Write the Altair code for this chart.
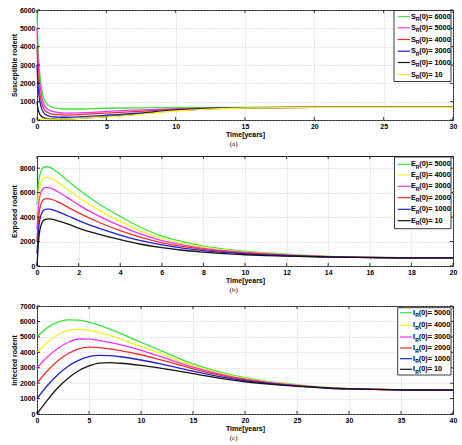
import altair as alt
import pandas as pd

FONT = "Liberation Sans"
SERIF = "Liberation Serif"

# MATLAB-style line colours
GREEN = "#3be63b"
MAGENTA = "#ee33ee"
RED = "#ee2e2e"
BLUE = "#2020d0"
BLACK = "#141414"
YELLOW = "#f2f222"

# ---------------- (a) susceptible rodents ----------------
t_a = [0, 0.05, 0.15, 0.3, 0.5, 0.75, 1, 1.5, 2, 3, 4, 5, 7, 10, 12, 15, 20, 25, 30]
s_6000 = [6000, 4500, 3000, 1900, 1150, 850, 730, 630, 600, 600, 620, 640, 660, 680, 685, 690, 690, 690, 690]
s_5000 = [5000, 3700, 2400, 1450, 850, 600, 500, 410, 380, 390, 420, 470, 540, 610, 650, 680, 690, 690, 690]
s_4000 = [4000, 2900, 1800, 1050, 600, 420, 340, 290, 270, 290, 330, 380, 460, 580, 635, 675, 690, 690, 690]
s_3000 = [3000, 2100, 1300, 700, 380, 250, 190, 160, 150, 170, 210, 260, 360, 550, 620, 670, 690, 690, 690]
s_1000 = [1000, 700, 400, 220, 120, 80, 65, 60, 60, 90, 130, 180, 300, 520, 600, 665, 690, 690, 690]
s_10 = [10, 20, 30, 40, 45, 50, 50, 55, 60, 90, 130, 170, 280, 490, 580, 655, 688, 690, 690]
init_a = ["6000", "5000", "4000", "3000", "1000", "10"]
colors_a = [GREEN, MAGENTA, RED, BLUE, BLACK, YELLOW]

# ---------------- (b) exposed rodents ----------------
t_b = [0, 0.05, 0.1, 0.2, 0.3, 0.45, 0.6, 0.8, 1, 1.5, 2, 3, 4, 5, 6, 7, 8, 9, 10, 11, 12, 14, 16, 18, 20]
e_5000 = [5000, 6300, 7100, 7800, 8050, 8120, 8080, 7900, 7650, 6950, 6250, 5050, 4050, 3150, 2450, 2000, 1620, 1380, 1210, 1070, 960, 790, 710, 675, 665]
e_4000 = [4000, 5400, 6200, 6900, 7180, 7270, 7230, 7080, 6860, 6250, 5620, 4550, 3650, 2850, 2250, 1850, 1540, 1320, 1160, 1040, 930, 775, 705, 672, 665]
e_3000 = [3000, 4400, 5300, 6050, 6330, 6430, 6400, 6270, 6080, 5550, 5000, 4060, 3280, 2600, 2080, 1730, 1450, 1250, 1110, 1000, 900, 765, 700, 670, 665]
e_2000 = [2000, 3400, 4300, 5100, 5420, 5520, 5500, 5400, 5240, 4800, 4350, 3560, 2900, 2340, 1900, 1600, 1360, 1180, 1060, 960, 870, 755, 698, 669, 665]
e_1000 = [1000, 2400, 3400, 4200, 4550, 4660, 4660, 4580, 4450, 4090, 3720, 3070, 2530, 2070, 1720, 1460, 1260, 1110, 1000, 910, 840, 745, 694, 668, 665]
e_10 = [10, 1400, 2500, 3350, 3700, 3830, 3850, 3800, 3700, 3420, 3100, 2580, 2150, 1780, 1500, 1290, 1140, 1010, 920, 850, 800, 730, 690, 668, 665]
init_b = ["5000", "4000", "3000", "2000", "1000", "10"]
colors_b = [GREEN, YELLOW, MAGENTA, RED, BLUE, BLACK]

# ---------------- (c) infected rodents ----------------
t_c = [0, 1, 2, 3, 4, 5, 6, 7, 8, 10, 12, 15, 18, 20, 22, 25, 28, 30, 35, 40]
i_5000 = [5000, 5600, 5950, 6100, 6080, 5950, 5750, 5500, 5230, 4650, 4080, 3250, 2650, 2350, 2130, 1900, 1720, 1650, 1570, 1550]
i_4000 = [4000, 4650, 5150, 5420, 5480, 5420, 5280, 5090, 4870, 4380, 3880, 3130, 2580, 2300, 2100, 1880, 1710, 1650, 1570, 1550]
i_3000 = [3000, 3700, 4250, 4650, 4860, 4850, 4760, 4640, 4500, 4130, 3700, 3040, 2520, 2260, 2070, 1860, 1700, 1640, 1570, 1550]
i_2000 = [2000, 2800, 3450, 3920, 4220, 4330, 4300, 4220, 4110, 3840, 3490, 2930, 2460, 2220, 2040, 1840, 1690, 1635, 1568, 1550]
i_1000 = [1000, 1850, 2550, 3100, 3480, 3720, 3800, 3780, 3710, 3500, 3230, 2780, 2370, 2160, 2000, 1820, 1680, 1630, 1565, 1550]
i_10 = [10, 900, 1700, 2320, 2800, 3120, 3300, 3330, 3290, 3150, 2960, 2620, 2270, 2090, 1950, 1790, 1670, 1625, 1563, 1550]
init_c = ["5000", "4000", "3000", "2000", "1000", "10"]
colors_c = [GREEN, YELLOW, MAGENTA, RED, BLUE, BLACK]

W = 416
ONE = pd.DataFrame({"k": [0]})


def panel(t, series, inits, colors, var, ytitle, caption,
          xmax, xstep, ymax, yticks, height, leg):
    xticks = list(range(0, xmax + 1, xstep))
    xs = alt.Scale(domain=[0, xmax], nice=False, zero=False)
    ys = alt.Scale(domain=[0, ymax], nice=False, zero=False)
    xa = alt.Axis(values=xticks, title="Time[years]", format="d")
    ya = alt.Axis(values=yticks, title=ytitle, format="d")
    x_enc = alt.X("t:Q", scale=xs, axis=xa)
    y_enc = alt.Y("v:Q", scale=ys, axis=ya)

    layers = []
    for vals, c in zip(series, colors):
        df = pd.DataFrame({"t": t, "v": vals})
        layers.append(
            alt.Chart(df).mark_line(color=c, strokeWidth=1.3, interpolate="monotone")
            .encode(x=x_enc, y=y_enc)
        )

    # inward tick marks on all four sides
    xt = pd.DataFrame({"t": xticks})
    yt = pd.DataFrame({"v": yticks})
    tick = dict(color="black", strokeWidth=0.8)
    layers += [
        alt.Chart(xt).mark_rule(**tick).encode(x=x_enc, y=alt.value(height), y2=alt.value(height - 3)),
        alt.Chart(xt).mark_rule(**tick).encode(x=x_enc, y=alt.value(0), y2=alt.value(3)),
        alt.Chart(yt).mark_rule(**tick).encode(y=y_enc, x=alt.value(0), x2=alt.value(3)),
        alt.Chart(yt).mark_rule(**tick).encode(y=y_enc, x=alt.value(W), x2=alt.value(W - 3)),
    ]

    # legend box with subscripted labels
    bx0, bx1, by0, by1, rows, lx0, lx1, tx, sub_dx = leg
    layers.append(
        alt.Chart(ONE).mark_rect(fill="white", stroke="#222", strokeWidth=0.9)
        .encode(x=alt.value(bx0), x2=alt.value(bx1), y=alt.value(by0), y2=alt.value(by1))
    )
    txt = dict(align="left", baseline="middle", font=FONT, fontWeight="bold", color="black")
    for ry, c, init in zip(rows, colors, inits):
        layers += [
            alt.Chart(ONE).mark_rule(color=c, strokeWidth=1.2)
            .encode(x=alt.value(lx0), x2=alt.value(lx1), y=alt.value(ry)),
            alt.Chart(ONE).mark_text(fontSize=7.3, **txt)
            .encode(x=alt.value(tx), y=alt.value(ry), text=alt.value(var)),
            alt.Chart(ONE).mark_text(fontSize=5, **txt)
            .encode(x=alt.value(tx + sub_dx), y=alt.value(ry + 2.5), text=alt.value("R")),
            alt.Chart(ONE).mark_text(fontSize=7.3, **txt)
            .encode(x=alt.value(tx + sub_dx + 3.6), y=alt.value(ry), text=alt.value("(0)= " + init)),
        ]

    return alt.layer(*layers).properties(
        width=W,
        height=height,
        title=alt.TitleParams(caption, orient="bottom", frame="bounds", anchor="middle",
                              font=SERIF, fontSize=7, fontWeight="normal", color="black", offset=3),
    )


pa = panel(t_a, [s_6000, s_5000, s_4000, s_3000, s_1000, s_10], init_a, colors_a, "S",
           "Susceptible rodent", "(a)", 30, 5, 6000, list(range(0, 6001, 1000)), 110,
           (357, 414, 0.5, 71.5, [6.5, 17.8, 29.5, 41.2, 52.5, 64.5], 360.7, 373, 374, 4.7))
pb = panel(t_b, [e_5000, e_4000, e_3000, e_2000, e_1000, e_10], init_b, colors_b, "E",
           "Exposed rodent", "(b)", 20, 2, 9000, list(range(0, 8001, 2000)), 110,
           (357.5, 414, 1, 72.7, [8.3, 19, 30.3, 41.7, 53.3, 64.7], 360.7, 373.7, 374, 4.7))
pc = panel(t_c, [i_5000, i_4000, i_3000, i_2000, i_1000, i_10], init_c, colors_c, "I",
           "Infected rodent", "(c)", 40, 5, 7000, list(range(0, 7001, 1000)), 108,
           (360.7, 414, 1.7, 69, [6.7, 19.3, 31, 42, 52.7, 63.3], 363, 375, 376, 2.2))

chart = (
    alt.vconcat(pa, pb, pc, spacing=7)
    .properties(padding={"left": 9, "top": 5, "right": 4, "bottom": 0}, background="white")
    .configure_view(stroke="#222", strokeWidth=1)
    .configure_axis(
        labelFont=FONT, labelFontWeight="bold", labelFontSize=7, labelColor="black",
        titleFont=FONT, titleFontWeight="bold", titleFontSize=7, titleColor="black",
        grid=True, gridDash=[1, 2], gridColor="#b4b4b4", gridWidth=0.7,
        domain=False, ticks=False, labelPadding=2, labelFlush=False,
    )
    .configure_axisX(titlePadding=1)
    .configure_axisY(titlePadding=2)
)

chart.save("out.html", embed_options={"renderer": "svg", "actions": False})
